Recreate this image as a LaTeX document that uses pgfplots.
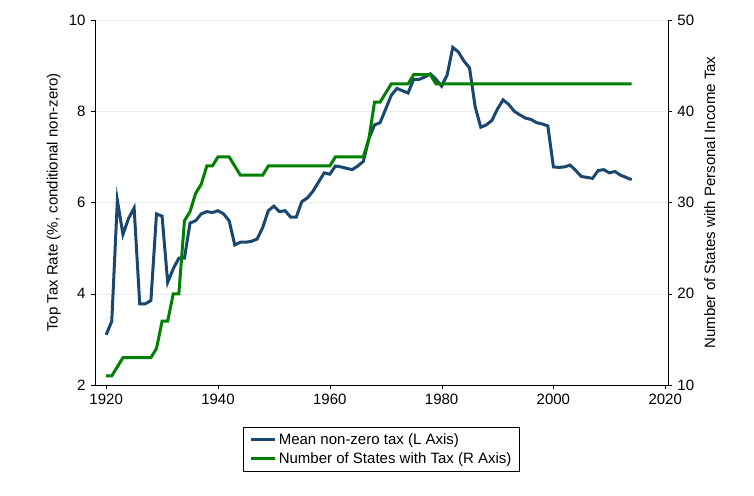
\documentclass[border=0pt]{standalone}
\usepackage{pgfplots}
\pgfplotsset{compat=1.18}
\usepackage{fontspec}
\setmainfont{Liberation Sans}
\definecolor{sblue}{HTML}{1A476F}
\definecolor{sgreen}{HTML}{008000}
\begin{document}
\fontsize{15}{18}\selectfont
\begin{tikzpicture}
\useasboundingbox (-95pt,-110pt) rectangle (659pt,385pt);
\begin{axis}[
  at={(0,0)}, anchor=south west,
  width=573pt, height=365pt, scale only axis,
  xmin=1918, xmax=2020.5, ymin=2, ymax=10,
  axis y line*=left, axis x line*=bottom,
  xtick={1920,1940,...,2020}, ytick={2,4,...,10},
  /pgf/number format/1000 sep={},
  /pgf/number format/assume math mode=true,
  ymajorgrids, grid style={gray!15},
  ylabel={Top Tax Rate (\%, conditional non-zero)},
  ylabel style={yshift=-2pt},
  tick style={black}, tick align=outside,
  legend style={at={(0.5,-0.115)}, anchor=north, draw=black, legend cell align=left,
    font=\fontsize{15}{21}\selectfont, inner xsep=6pt, inner ysep=4pt,
    row sep=2pt},
  legend image post style={line width=3pt},
  legend image code/.code={\draw[#1] (0pt,0pt) -- (0.85cm,0pt);},
]
\addplot[sblue, line width=3pt] coordinates {
(1920,3.1)(1921,3.4)(1922,6.05)(1923,5.3)(1924,5.65)(1925,5.88)(1926,3.78)(1927,3.78)(1928,3.85)(1929,5.75)
(1930,5.7)(1931,4.25)(1932,4.55)(1933,4.78)(1934,4.78)(1935,5.55)(1936,5.6)(1937,5.75)(1938,5.8)(1939,5.78)
(1940,5.82)(1941,5.75)(1942,5.6)(1943,5.07)(1944,5.13)(1945,5.13)(1946,5.15)(1947,5.2)(1948,5.45)(1949,5.82)
(1950,5.92)(1951,5.8)(1952,5.82)(1953,5.68)(1954,5.68)(1955,6.02)(1956,6.1)(1957,6.25)(1958,6.45)(1959,6.65)
(1960,6.62)(1961,6.8)(1962,6.78)(1963,6.75)(1964,6.72)(1965,6.8)(1966,6.9)(1967,7.4)(1968,7.7)(1969,7.75)
(1970,8.05)(1971,8.35)(1972,8.5)(1973,8.45)(1974,8.4)(1975,8.7)(1976,8.7)(1977,8.75)(1978,8.82)(1979,8.7)
(1980,8.55)(1981,8.8)(1982,9.4)(1983,9.3)(1984,9.1)(1985,8.95)(1986,8.1)(1987,7.65)(1988,7.7)(1989,7.8)
(1990,8.05)(1991,8.25)(1992,8.15)(1993,8.0)(1994,7.92)(1995,7.85)(1996,7.82)(1997,7.75)(1998,7.72)(1999,7.68)
(2000,6.78)(2001,6.77)(2002,6.78)(2003,6.82)(2004,6.7)(2005,6.57)(2006,6.55)(2007,6.53)(2008,6.7)(2009,6.72)
(2010,6.65)(2011,6.68)(2012,6.6)(2013,6.55)(2014,6.5)};
\addlegendentry{Mean non-zero tax (L Axis)}
\addlegendimage{sgreen, line width=3pt}
\addlegendentry{Number of States with Tax (R Axis)}
\end{axis}
\begin{axis}[
  at={(0,0)}, anchor=south west,
  width=573pt, height=365pt, scale only axis,
  xmin=1918, xmax=2020.5, ymin=10, ymax=50,
  axis y line*=right, axis x line=none,
  ytick={10,20,...,50},
  /pgf/number format/assume math mode=true,
  ylabel={Number of States with Personal Income Tax},
  tick style={black}, tick align=outside,
]
\addplot[sgreen, line width=3pt] coordinates {
(1920,11)(1921,11)(1922,12)(1923,13)(1924,13)(1925,13)(1926,13)(1927,13)(1928,13)(1929,14)
(1930,17)(1931,17)(1932,20)(1933,20)(1934,28)(1935,29)(1936,31)(1937,32)(1938,34)(1939,34)
(1940,35)(1941,35)(1942,35)(1943,34)(1944,33)(1945,33)(1946,33)(1947,33)(1948,33)(1949,34)
(1950,34)(1951,34)(1952,34)(1953,34)(1954,34)(1955,34)(1956,34)(1957,34)(1958,34)(1959,34)
(1960,34)(1961,35)(1962,35)(1963,35)(1964,35)(1965,35)(1966,35)(1967,37)(1968,41)(1969,41)
(1970,42)(1971,43)(1972,43)(1973,43)(1974,43)(1975,44)(1976,44)(1977,44)(1978,44)(1979,43)
(1980,43)(1985,43)(1990,43)(1995,43)(2000,43)(2005,43)(2010,43)(2014,43)};
\end{axis}
\end{tikzpicture}
\end{document}
